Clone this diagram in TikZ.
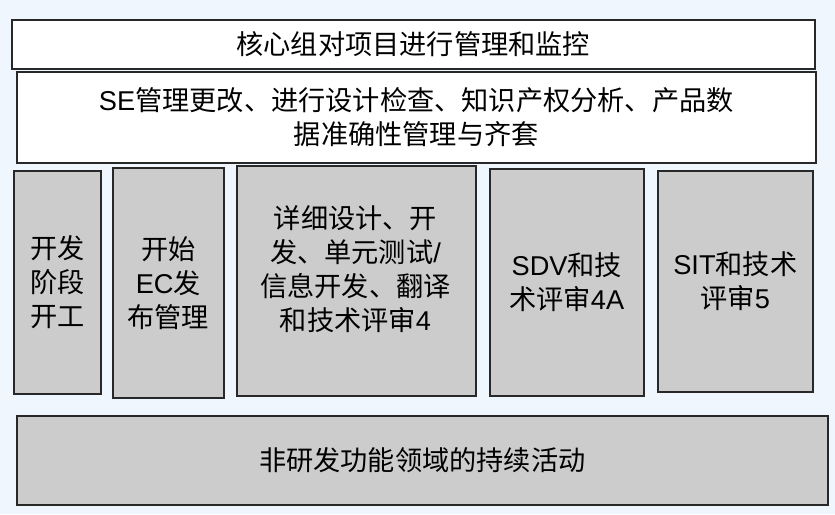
\documentclass[tikz,border=0pt]{standalone}
\usepackage{fontspec}
\setmainfont{Noto Sans CJK SC}
\newfontfamily\lat{Liberation Sans}
\definecolor{bgblue}{RGB}{240,246,254}
\definecolor{boxgray}{RGB}{204,204,204}
\definecolor{edge}{RGB}{40,40,40}
\tikzset{
  basebox/.style={draw=edge, line width=1.6pt, anchor=north west, inner sep=0pt,
    align=center, font=\fontsize{27.2}{34}\selectfont},
  wbox/.style={basebox, fill=white},
  gbox/.style={basebox, fill=boxgray},
  txt/.style={inner sep=0pt, align=center, font=\fontsize{27.2}{34}\selectfont}
}
\begin{document}
\begin{tikzpicture}[x=1pt,y=-1pt]
\fill[bgblue] (0,0) rectangle (835,514);
\useasboundingbox (0,0) rectangle (835,514);
\node[wbox, minimum width=803pt, minimum height=49pt] (top) at (11,19) {核心组对项目进行管理和监控};
\node[wbox, minimum width=799pt, minimum height=91pt] (se) at (16,71)
  {{\lat SE}管理更改、进行设计检查、知识产权分析、产品数\\据准确性管理与齐套};
\node[gbox, minimum width=87pt, minimum height=223pt] (c1) at (13,170) {开发\\阶段\\开工};
\node[gbox, minimum width=111pt, minimum height=230pt] (c2) at (112,167) {开始\\{\lat EC}发\\布管理};
\node[gbox, minimum width=239pt, minimum height=230pt] (c3) at (236,165) {};
\node[txt] (c3text) at (355.5,269) {详细设计、开\\发、单元测试{\lat /}\\信息开发、翻译\\和技术评审{\lat 4}};
\node[gbox, minimum width=154pt, minimum height=227pt] (c4) at (489,168) {{\lat SDV}和技\\术评审{\lat 4A}};
\node[gbox, minimum width=155pt, minimum height=221pt] (c5) at (657,170) {{\lat SIT}和技术\\评审{\lat 5}};
\node[gbox, minimum width=811pt, minimum height=89pt] (bot) at (16,415) {非研发功能领域的持续活动};
\end{tikzpicture}
\end{document}
